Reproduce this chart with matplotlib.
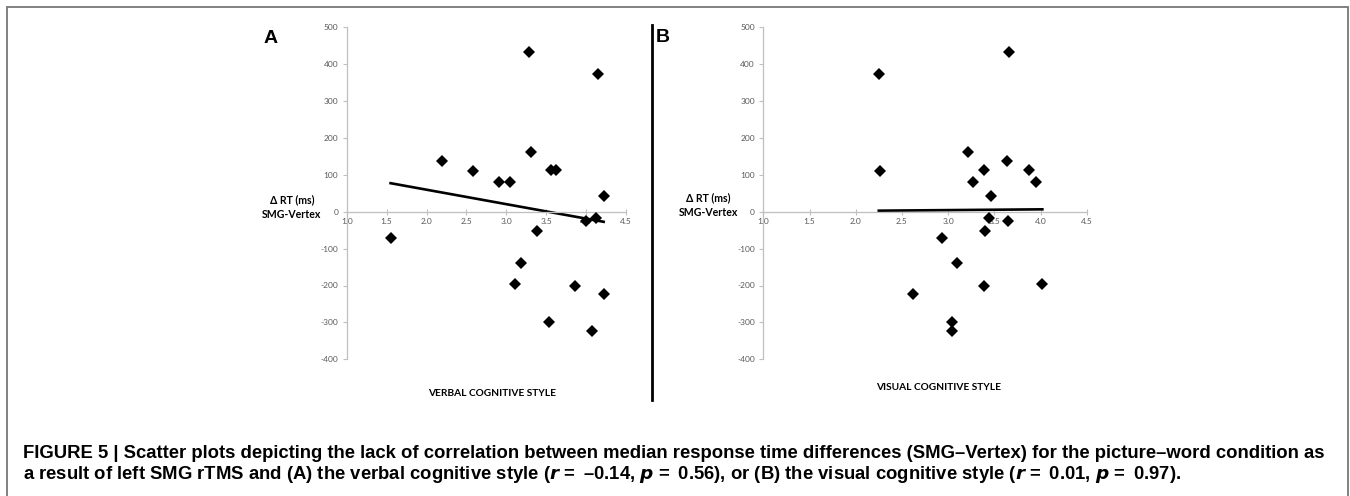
import numpy as np
import matplotlib
matplotlib.use("Agg")
import matplotlib.pyplot as plt
from matplotlib.patches import Rectangle
from matplotlib.lines import Line2D

# ---- data ----
verbal_x = [3.28, 4.15, 2.19, 2.58, 2.91, 3.05, 3.31, 3.56, 3.62, 4.22,
            4.00, 4.13, 1.55, 3.38, 3.19, 3.11, 3.86, 4.22, 3.54, 4.08]
verbal_y = [432, 372, 138, 110, 81, 81, 162, 114, 113, 42,
            -24, -18, -72, -53, -140, -196, -201, -223, -298, -322]

visual_x = [3.66, 2.25, 3.21, 3.64, 3.39, 3.88, 2.26, 3.27, 3.95, 3.46,
            3.44, 3.65, 3.40, 2.93, 3.10, 4.02, 3.39, 2.62, 3.04, 3.04]
visual_y = [432, 372, 162, 138, 114, 113, 110, 81, 81, 42,
            -18, -24, -53, -72, -140, -196, -201, -223, -298, -322]

x_ticks = [1.0, 1.5, 2.0, 2.5, 3.0, 3.5, 4.0, 4.5]
y_ticks = [-400, -300, -200, -100, 0, 100, 200, 300, 400, 500]

W, H = 1350, 496
fig = plt.figure(figsize=(W / 100, H / 100), dpi=100)
fig.patch.set_facecolor("white")

TICK_FONT = ["Lato", "DejaVu Sans"]
LABEL_FONT = ["Lato", "DejaVu Sans"]


def px_axes(x0, x1, y0, y1):
    return fig.add_axes([x0 / W, 1 - y1 / H, (x1 - x0) / W, (y1 - y0) / H])


def style(ax, xs, ys):
    ax.set_xlim(1.0, 4.5)
    ax.set_ylim(-400, 500)
    ax.set_xticks(x_ticks)
    ax.set_yticks(y_ticks)
    ax.set_xticklabels([f"{v:.1f}" for v in x_ticks])
    ax.set_yticklabels([str(v) for v in y_ticks])
    for s in ("top", "right"):
        ax.spines[s].set_visible(False)
    ax.spines["bottom"].set_position(("data", 0))
    for s in ("left", "bottom"):
        ax.spines[s].set_color("#bfbfbf")
        ax.spines[s].set_linewidth(0.9)
    ax.tick_params(axis="x", direction="inout", length=4, width=0.8,
                   color="#bfbfbf", labelsize=6.0, labelcolor="#595959", pad=2.5)
    ax.tick_params(axis="y", direction="out", length=3, width=0.8,
                   color="#bfbfbf", labelsize=6.0, labelcolor="#595959", pad=3)
    for lab in ax.get_xticklabels() + ax.get_yticklabels():
        lab.set_fontfamily(TICK_FONT)
    ax.patch.set_alpha(0)
    ax.plot(xs, ys, linestyle="none", marker="D", markersize=5.8,
            color="black", markeredgewidth=0, zorder=3)
    k, b = np.polyfit(xs, ys, 1)
    xl = np.array([min(xs), max(xs)])
    ax.plot(xl, k * xl + b, color="black", linewidth=1.9, zorder=2)


axA = px_axes(346.7, 626.0, 27.2, 359.3)
style(axA, verbal_x, verbal_y)
axB = px_axes(763.3, 1086.7, 27.2, 359.3)
style(axB, visual_x, visual_y)

# axis labels
fig.text(292 / W, 1 - 207 / H, "\u0394 RT (ms)\nSMG-Vertex", ha="center", va="center",
         fontsize=7.6, fontweight="bold", family=LABEL_FONT, linespacing=1.45)
fig.text(708 / W, 1 - 205 / H, "\u0394 RT (ms)\nSMG-Vertex", ha="center", va="center",
         fontsize=7.6, fontweight="bold", family=LABEL_FONT, linespacing=1.45)
fig.text(491.7 / W, 1 - 393 / H, "VERBAL COGNITIVE STYLE", ha="center", va="center",
         fontsize=7.3, fontweight="bold", family=LABEL_FONT)
fig.text(939 / W, 1 - 388 / H, "VISUAL COGNITIVE STYLE", ha="center", va="center",
         fontsize=7.3, fontweight="bold", family=LABEL_FONT)

# panel letters
fig.text(264 / W, 1 - 43 / H, "A", ha="left", va="baseline", fontsize=14,
         fontweight="bold", family=["Liberation Sans", "DejaVu Sans"])
fig.text(656 / W, 1 - 42 / H, "B", ha="left", va="baseline", fontsize=14,
         fontweight="bold", family=["Liberation Sans", "DejaVu Sans"])

# divider line
fig.add_artist(Line2D([651.7 / W, 651.7 / W], [1 - 25 / H, 1 - 400 / H],
                      transform=fig.transFigure, color="black", linewidth=2.0))

# frame
fig.add_artist(Rectangle((7 / W, -0.2), (1348 - 7) / W, (H - 7) / H + 0.2,
                         transform=fig.transFigure, fill=False,
                         edgecolor="#777777", linewidth=1.3, clip_on=False))

# caption
plt.rcParams["mathtext.fontset"] = "custom"
plt.rcParams["mathtext.it"] = "Liberation Sans Narrow:italic:bold"
plt.rcParams["mathtext.rm"] = "Liberation Sans Narrow:bold"
CAP_FONT = ["Liberation Sans Narrow", "Liberation Sans", "DejaVu Sans"]
line1 = ("FIGURE 5 | Scatter plots depicting the lack of correlation between median response "
         "time differences (SMG\u2013Vertex) for the picture\u2013word condition as")
line2 = ("a result of left SMG rTMS and (A) the verbal cognitive style ($r$ = \u2009\u20130.14, "
         "$p$ = \u20090.56), or (B) the visual cognitive style ($r$ = \u20090.01, $p$ = \u20090.97).")
fig.text(23 / W, 1 - 458 / H, line1, ha="left", va="baseline", fontsize=13.32,
         fontweight="bold", family=CAP_FONT)
fig.text(23 / W, 1 - 479 / H, line2, ha="left", va="baseline", fontsize=13.32,
         fontweight="bold", family=CAP_FONT)

fig.savefig("out.png", dpi=100, facecolor="white")
